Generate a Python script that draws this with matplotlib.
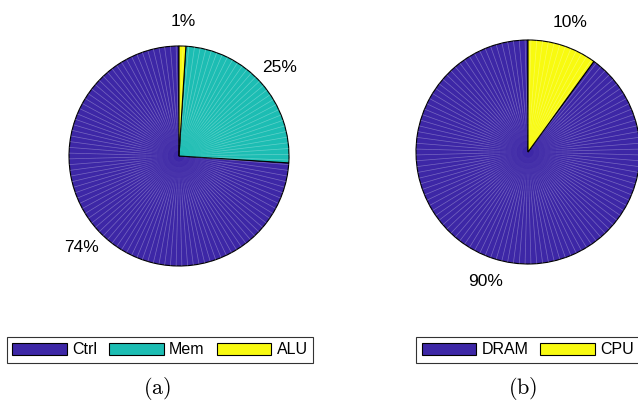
import matplotlib
matplotlib.use("Agg")
import matplotlib.pyplot as plt
import numpy as np
from matplotlib.collections import LineCollection
from matplotlib.patches import Patch

plt.rcParams["font.family"] = ["Liberation Sans", "DejaVu Sans"]
plt.rcParams["mathtext.fontset"] = "cm"

# (a) breakdown
labels_a = ["Ctrl", "Mem", "ALU"]
shares_a = [74, 25, 1]
# (b) breakdown
labels_b = ["DRAM", "CPU"]
shares_b = [90, 10]

BLUE = "#3D27A6"
TEAL = "#1CBDB3"
YELLOW = "#F8FA10"
colors_a = [BLUE, TEAL, YELLOW]
colors_b = [BLUE, YELLOW]

W, H = 638, 400
fig = plt.figure(figsize=(W / 100, H / 100), dpi=100)


def pie_axes(cx, cy, r):
    """Square axes centred on pixel (cx, cy) with radius r pixels."""
    ax = fig.add_axes([(cx - r) / W, (H - cy - r) / H, 2 * r / W, 2 * r / H])
    return ax


def draw_pie(ax, shares, colors):
    wedges, _, texts = ax.pie(
        shares, colors=colors, startangle=90, counterclock=True,
        autopct=lambda p: f"{p:.0f}%", pctdistance=1.22,
        wedgeprops=dict(edgecolor="black", linewidth=0.8),
        textprops=dict(fontsize=12.5, color="black"),
    )
    # faint radial seams across the filled patches, fading toward the centre
    radii = np.linspace(0.0, 1.0, 21)
    alphas = np.clip((radii[:-1] + radii[1:]) / 2 / 0.4, 0.0, 1.0) ** 1.5 * 0.3
    segs, cols = [], []
    start = 90.0
    total = float(sum(shares))
    for s in shares:
        span = 360.0 * s / total
        for a in np.arange(start + 1.5, start + span - 0.8, 3.0):
            t = np.deg2rad(a)
            c, sn = np.cos(t), np.sin(t)
            for r0, r1, al in zip(radii[:-1], radii[1:], alphas):
                segs.append([(r0 * c, r0 * sn), (r1 * c, r1 * sn)])
                cols.append((1, 1, 1, al))
        start += span
    ax.add_collection(LineCollection(segs, colors=cols, linewidths=0.5,
                                     capstyle="butt", zorder=1.5))
    for w in wedges:
        w.set_zorder(1)
    for t in texts:
        t.set_clip_on(False)
    ax.set_xlim(-1, 1)
    ax.set_ylim(-1, 1)
    ax.set_aspect("auto")
    ax.axis("off")
    return wedges


ax_a = pie_axes(179, 156, 110)
draw_pie(ax_a, shares_a, colors_a)
ax_b = pie_axes(528, 152, 112)
draw_pie(ax_b, shares_b, colors_b)

leg_kw = dict(
    ncol=3, fontsize=11.5, frameon=True, fancybox=False, borderaxespad=0,
    handlelength=3.4, handleheight=0.85, handletextpad=0.35,
    columnspacing=0.75, borderpad=0.35,
)
handles_a = [Patch(facecolor=c, edgecolor="black", linewidth=0.8) for c in colors_a]
leg_a = fig.legend(handles_a, labels_a, loc="center",
                   bbox_to_anchor=(160 / W, 1 - 350 / H), **leg_kw)
handles_b = [Patch(facecolor=c, edgecolor="black", linewidth=0.8) for c in colors_b]
leg_b = fig.legend(handles_b, labels_b, loc="center left",
                   bbox_to_anchor=(416 / W, 1 - 350 / H), **leg_kw)
for leg in (leg_a, leg_b):
    leg.get_frame().set_edgecolor("black")
    leg.get_frame().set_linewidth(0.8)

fig.text(157 / W, 1 - 388 / H, r"$\mathrm{(a)}$", fontsize=16, ha="center", va="center")
fig.text(523 / W, 1 - 388 / H, r"$\mathrm{(b)}$", fontsize=16, ha="center", va="center")

fig.savefig("out.png", dpi=100)
